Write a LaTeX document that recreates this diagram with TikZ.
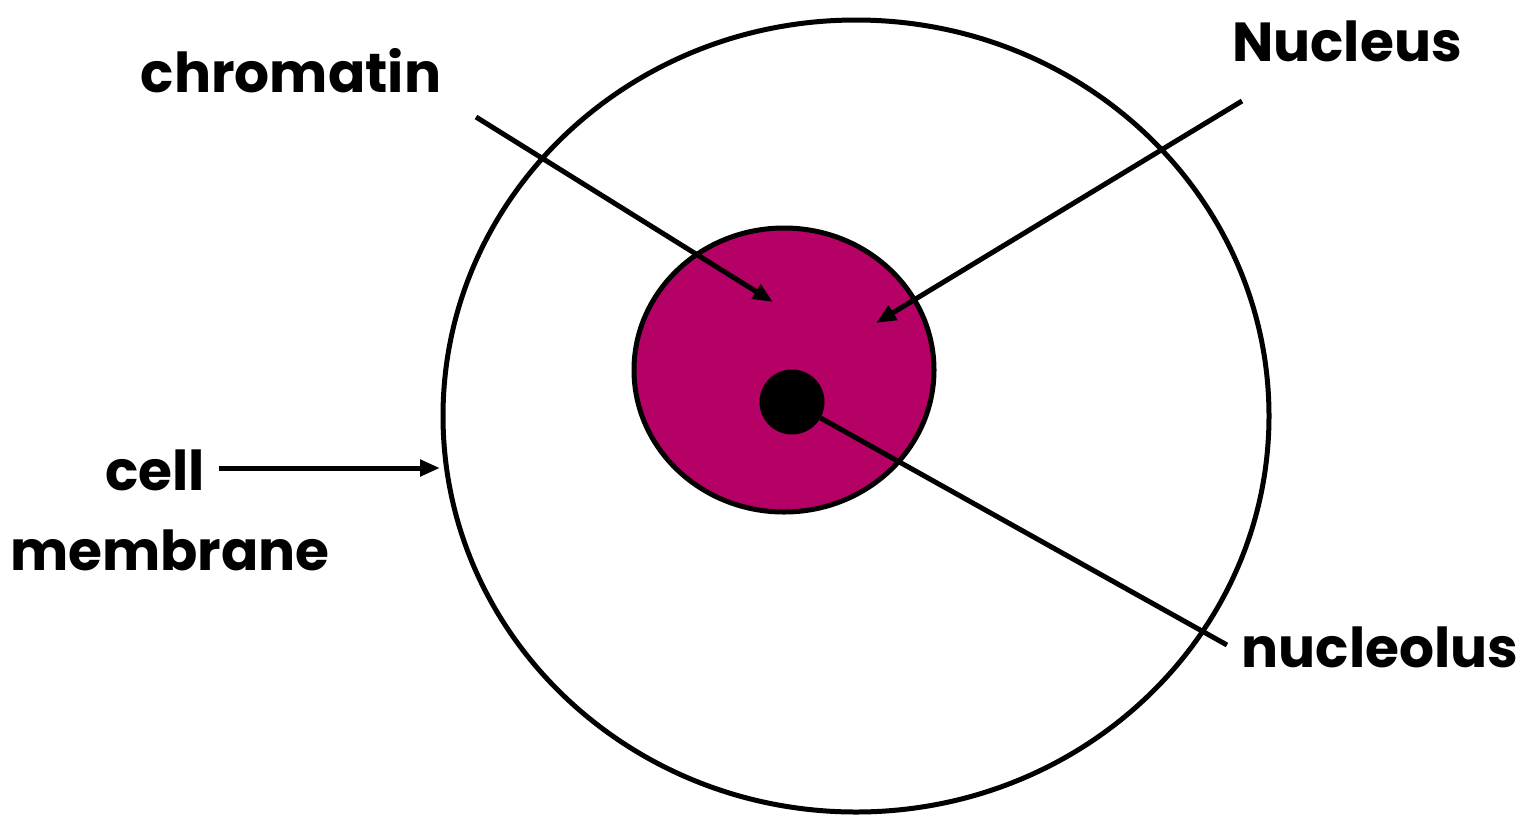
\documentclass[tikz,border=0pt]{standalone}
\usepackage{fontspec}
\setmainfont{Poppins}
\usetikzlibrary{arrows.meta}
\definecolor{nucl}{RGB}{181,0,101}
\begin{document}
\begin{tikzpicture}[x=1pt,y=-1pt,
  lbl/.style={font=\fontsize{55}{62}\selectfont\bfseries, inner sep=0pt, anchor=base},
  ptr/.style={line width=5pt, -{Triangle[length=20pt,width=16pt]}},
  cellline/.style={line width=5pt}]
\useasboundingbox (0,0) rectangle (1522,815);
\draw[cellline] (856,416) ellipse [x radius=413, y radius=396];
\draw[cellline, fill=nucl] (784,370) ellipse [x radius=150, y radius=142];
\node[circle, fill=black, minimum size=65pt, inner sep=0pt] (nucleolusdot) at (792,402) {};
\node[lbl] (chromatin) at (291,92) {chromatin};
\node[lbl] (nucleus) at (1347,61) {Nucleus};
\node[lbl] (cell) at (155,490) {cell};
\node[lbl] (membrane) at (170,570) {membrane};
\node[lbl] (nucleolus) at (1380,667) {nucleolus};
\coordinate (c1) at (476,117);
\coordinate (c2) at (773,302);
\coordinate (n1) at (1242,101);
\coordinate (n2) at (876,323);
\coordinate (m1) at (219,468);
\coordinate (m2) at (440,468);
\coordinate (o1) at (1227,645);
\draw[ptr] (c1) -- (c2);
\draw[ptr] (n1) -- (n2);
\draw[ptr] (m1) -- (m2);
\draw[cellline] (o1) -- (nucleolusdot);
\end{tikzpicture}
\end{document}
